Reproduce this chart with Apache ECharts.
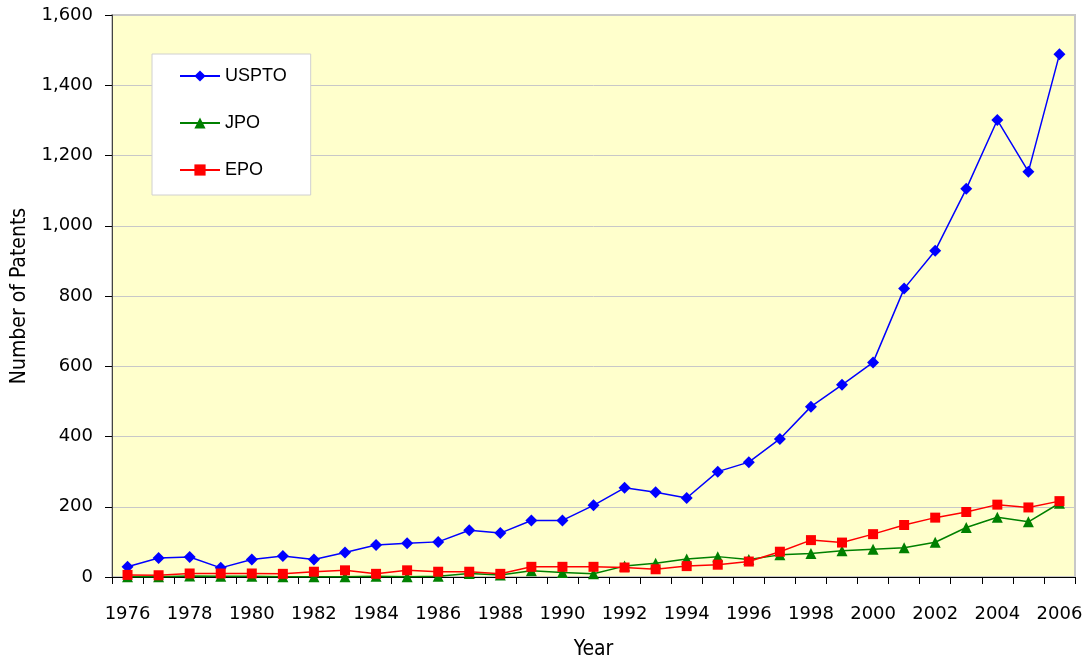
<!DOCTYPE html>
<html>
<head>
<meta charset="utf-8">
<script src="https://cdn.jsdelivr.net/npm/echarts@6/dist/echarts.min.js"></script>
<style>
  html, body { margin: 0; padding: 0; background: #fff; }
  #chart { width: 1084px; height: 661px; }
</style>
</head>
<body>
<div id="chart"></div>
<script>
// years on the x axis
var years = ['1976','1977','1978','1979','1980','1981','1982','1983','1984','1985',
  '1986','1987','1988','1989','1990','1991','1992','1993','1994','1995',
  '1996','1997','1998','1999','2000','2001','2002','2003','2004','2005','2006'];

// patents per office
var uspto = [29, 54, 57, 26, 50, 60, 50, 70, 91, 96,
  100, 133, 125, 161, 161, 204, 254, 241, 225, 300,
  327, 393, 485, 547, 611, 821, 929, 1105, 1301, 1154, 1488];
var jpo = [1, 1, 3, 2, 2, 1, 1, 1, 2, 1,
  2, 10, 6, 18, 13, 9, 31, 39, 51, 58,
  50, 63, 67, 75, 79, 83, 99, 141, 170, 157, 210];
var epo = [6, 5, 10, 10, 10, 9, 15, 19, 9, 19,
  15, 15, 9, 29, 29, 29, 27, 22, 31, 35,
  44, 72, 105, 98, 122, 148, 169, 185, 206, 198, 216];

var myChart = echarts.init(document.getElementById('chart'));

var titleFont = "'DejaVu Sans Condensed', 'Liberation Sans Narrow', 'DejaVu Sans', sans-serif";

function lineSeries(name, data, color, symbol, size) {
  return {
    name: name,
    type: 'line',
    data: data,
    symbol: symbol,
    symbolSize: size,
    showAllSymbol: true,
    lineStyle: { color: color, width: 1.5 },
    itemStyle: { color: color },
    animation: false
  };
}

var option = {
  backgroundColor: '#fff',
  textStyle: { fontFamily: 'DejaVu Sans' },
  grid: {
    left: 112, right: 9, top: 15, bottom: 84,
    outerBoundsMode: 'none',
    show: true,
    backgroundColor: '#ffffcc',
    borderColor: '#c8c8c8',
    borderWidth: 2
  },
  legend: {
    orient: 'vertical',
    left: 152, top: 54,
    padding: [13, 24, 16, 27],
    itemWidth: 40, itemHeight: 14, itemGap: 29,
    backgroundColor: '#fff',
    borderColor: '#d0d0d0',
    borderWidth: 1,
    textStyle: { fontFamily: 'Liberation Sans', fontSize: 18, color: '#000' },
    data: ['USPTO', 'JPO', 'EPO']
  },
  xAxis: {
    type: 'category',
    data: years,
    boundaryGap: true,
    name: 'Year',
    nameLocation: 'middle',
    nameGap: 62,
    nameTextStyle: { fontFamily: titleFont, fontSize: 21, color: '#000' },
    axisLine: { lineStyle: { color: '#000', width: 1 } },
    axisTick: { show: true, interval: 0, length: 7, lineStyle: { color: '#000' } },
    axisLabel: { interval: 1, margin: 28, fontSize: 18, color: '#000', fontFamily: 'DejaVu Sans' },
    splitLine: { show: false }
  },
  yAxis: {
    type: 'value',
    min: 0, max: 1600, interval: 200,
    name: 'Number of Patents',
    nameLocation: 'middle',
    nameGap: 82,
    nameTextStyle: { fontFamily: titleFont, fontSize: 21, color: '#000' },
    axisLine: { show: true, lineStyle: { color: '#444', width: 1 } },
    axisTick: { show: true, length: 7, lineStyle: { color: '#000' } },
    axisLabel: {
      margin: 19, fontSize: 18, color: '#000', fontFamily: 'DejaVu Sans',
      formatter: function (v) { return v.toLocaleString('en-US'); }
    },
    splitLine: { lineStyle: { color: '#c8c8c8', width: 1 } }
  },
  series: [
    lineSeries('USPTO', uspto, '#0000ff', 'diamond', 12),
    lineSeries('JPO', jpo, '#008000', 'triangle', 11),
    lineSeries('EPO', epo, '#ff0000', 'rect', 10)
  ]
};

myChart.setOption(option);
</script>
</body>
</html>
